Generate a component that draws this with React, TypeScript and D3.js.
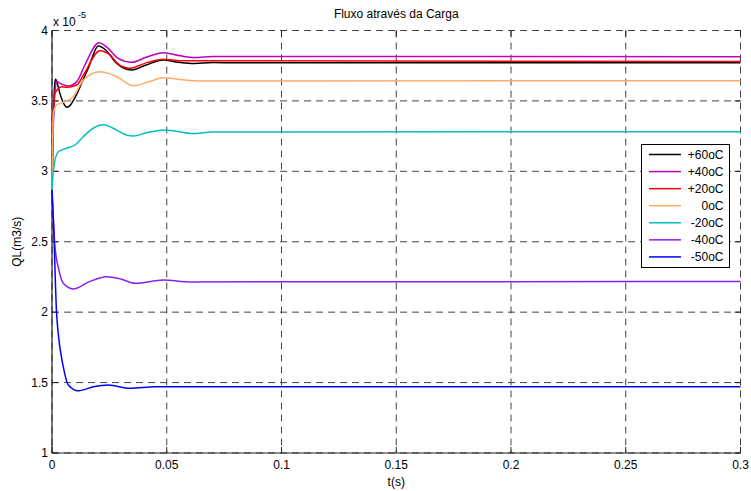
import React from 'react';
import * as d3 from 'd3';

// flow through the load, values in units of 1e-5 m3/s
const p60: [number, number][] = [
  [0, 2.87], [0.0005, 3.3], [0.0012, 3.62], [0.0016, 3.654], [0.002, 3.64],
  [0.0035, 3.55], [0.0055, 3.47], [0.0064, 3.455], [0.008, 3.47], [0.0099, 3.52],
  [0.0129, 3.625], [0.0158, 3.732], [0.0202, 3.89], [0.0235, 3.86], [0.028, 3.77],
  [0.0347, 3.72], [0.041, 3.755], [0.0485, 3.791], [0.055, 3.775], [0.062, 3.765],
  [0.07, 3.772], [0.08, 3.771], [0.3, 3.771],
];
const p40: [number, number][] = [
  [0, 2.87], [0.0006, 3.35], [0.0015, 3.6], [0.002, 3.637], [0.0035, 3.625],
  [0.0071, 3.606], [0.0108, 3.637], [0.0143, 3.755], [0.0205, 3.913], [0.024, 3.88],
  [0.029, 3.8], [0.0347, 3.774], [0.041, 3.81], [0.0485, 3.842], [0.056, 3.82],
  [0.062, 3.808], [0.07, 3.816], [0.3, 3.814],
];
const p20: [number, number][] = [
  [0, 2.87], [0.0003, 3.29], [0.0013, 3.554], [0.0042, 3.601], [0.0064, 3.597],
  [0.0108, 3.613], [0.0137, 3.684], [0.0209, 3.857], [0.025, 3.83], [0.029, 3.76],
  [0.034, 3.732], [0.041, 3.77], [0.0485, 3.796], [0.056, 3.785], [0.3, 3.78],
];
const p0: [number, number][] = [
  [0, 2.87], [0.0006, 3.412], [0.002, 3.471], [0.0056, 3.494], [0.0093, 3.53],
  [0.0137, 3.649], [0.0209, 3.707], [0.0282, 3.672], [0.0355, 3.608], [0.042, 3.635],
  [0.0485, 3.664], [0.056, 3.652], [0.065, 3.642], [0.3, 3.644],
];
const m20: [number, number][] = [
  [0, 2.867], [0.0006, 3.01], [0.0027, 3.139], [0.0064, 3.164], [0.01, 3.187],
  [0.0136, 3.246], [0.018, 3.306], [0.0225, 3.33], [0.0267, 3.306], [0.0325, 3.258],
  [0.0355, 3.251], [0.0415, 3.275], [0.0492, 3.294], [0.0616, 3.268], [0.07, 3.28],
  [0.3, 3.281],
];
const m40: [number, number][] = [
  [0, 2.867], [0.0013, 2.465], [0.003, 2.3], [0.0049, 2.205], [0.0093, 2.165],
  [0.016, 2.215], [0.0238, 2.252], [0.03, 2.235], [0.0362, 2.205], [0.0485, 2.228],
  [0.06, 2.215], [0.3, 2.218],
];
const m50: [number, number][] = [
  [0, 2.867], [0.0006, 2.654], [0.002, 1.992], [0.0027, 1.85], [0.0049, 1.613],
  [0.0071, 1.483], [0.0115, 1.442], [0.018, 1.47], [0.0245, 1.483], [0.034, 1.459],
  [0.045, 1.47], [0.3, 1.471],
];

const labels = ['+60oC', '+40oC', '+20oC', '0oC', '-20oC', '-40oC', '-50oC'];
const colors = ['#000000', '#bf00bf', '#ff0000', '#ffad66', '#00bfbf', '#8b1ff0', '#0000ff'];
const seriesList = [p60, p40, p20, p0, m20, m40, m50];

const xTicks = [0, 0.05, 0.1, 0.15, 0.2, 0.25, 0.3];
const xTickLabels = ['0', '0.05', '0.1', '0.15', '0.2', '0.25', '0.3'];
const yTicks = [1, 1.5, 2, 2.5, 3, 3.5, 4];
const yTickLabels = ['1', '1.5', '2', '2.5', '3', '3.5', '4'];

const width = 751;
const height = 491;
const left = 52;
const right = 740.5;
const top = 30.5;
const bottom = 453;
const font = 'Liberation Sans, Arial, sans-serif';

export default function App() {
  const xScale = d3.scaleLinear().domain([0, 0.3]).range([left, right]);
  const yScale = d3.scaleLinear().domain([1, 4]).range([bottom, top]);

  const line = d3
    .line<[number, number]>()
    .x((d) => xScale(d[0]))
    .y((d) => yScale(d[1]))
    .curve(d3.curveMonotoneX);

  const legX = 641.5;
  const legY = 144.5;
  const legW = 88;
  const legH = 123;
  const rowStep = 17.07;

  return (
    <svg
      width={width}
      height={height}
      style={{ position: 'absolute', left: 0, top: 0, background: '#fff' }}
      fontFamily={font}
    >
      <rect x={0} y={0} width={width} height={height} fill='#fff' />

      {/* grid */}
      <g stroke='#444' strokeWidth={1} strokeDasharray='7,5'>
        {xTicks.map((t) => (
          <line key={'gx' + t} x1={xScale(t)} x2={xScale(t)} y1={top} y2={bottom} />
        ))}
        {yTicks.map((t) => (
          <line key={'gy' + t} x1={left} x2={right} y1={yScale(t)} y2={yScale(t)} />
        ))}
      </g>

      {/* axes lines */}
      <line x1={left} x2={left} y1={top} y2={bottom} stroke='#222' strokeWidth={1.2} />
      <line x1={left} x2={right} y1={bottom} y2={bottom} stroke='#222' strokeWidth={1.2} />

      {/* ticks */}
      <g stroke='#222' strokeWidth={1}>
        {xTicks.map((t) => (
          <g key={'tx' + t}>
            <line x1={xScale(t)} x2={xScale(t)} y1={bottom} y2={bottom - 6} />
            <line x1={xScale(t)} x2={xScale(t)} y1={top} y2={top + 6} />
          </g>
        ))}
        {yTicks.map((t) => (
          <g key={'ty' + t}>
            <line x1={left} x2={left + 6} y1={yScale(t)} y2={yScale(t)} />
            <line x1={right} x2={right - 6} y1={yScale(t)} y2={yScale(t)} />
          </g>
        ))}
      </g>

      {/* series */}
      {seriesList.map((s, i) => (
        <path key={labels[i]} d={line(s) || ''} fill='none' stroke={colors[i]} strokeWidth={1.5} />
      ))}

      {/* tick labels */}
      <g fontSize={12} fill='#000'>
        {xTicks.map((t, i) => (
          <text key={'lx' + t} x={xScale(t)} y={bottom + 16} textAnchor='middle'>
            {xTickLabels[i]}
          </text>
        ))}
        {yTicks.map((t, i) => (
          <text key={'ly' + t} x={left - 4} y={yScale(t) + 4} textAnchor='end'>
            {yTickLabels[i]}
          </text>
        ))}
      </g>

      {/* exponent */}
      <text x={left + 1} y={top - 5} fontSize={12}>
        x 10
      </text>
      <text x={left + 26} y={top - 13} fontSize={9}>
        -5
      </text>

      {/* title and axis labels */}
      <text x={(left + right) / 2} y={18} textAnchor='middle' fontSize={12}>
        Fluxo através da Carga
      </text>
      <text x={(left + right) / 2} y={486} textAnchor='middle' fontSize={12}>
        t(s)
      </text>
      <text
        transform={'translate(21,' + (top + bottom) / 2 + ') rotate(-90)'}
        textAnchor='middle'
        fontSize={12}
      >
        QL(m3/s)
      </text>

      {/* legend */}
      <rect x={legX} y={legY} width={legW} height={legH} fill='#fff' stroke='#000' strokeWidth={1} />
      {labels.map((lab, i) => (
        <g key={'leg' + lab}>
          <line
            x1={legX + 7.5}
            x2={legX + 39.5}
            y1={legY + 10 + i * rowStep}
            y2={legY + 10 + i * rowStep}
            stroke={colors[i]}
            strokeWidth={1.5}
          />
          <text x={legX + 82} y={legY + 14 + i * rowStep} textAnchor='end' fontSize={12}>
            {lab}
          </text>
        </g>
      ))}
    </svg>
  );
}
